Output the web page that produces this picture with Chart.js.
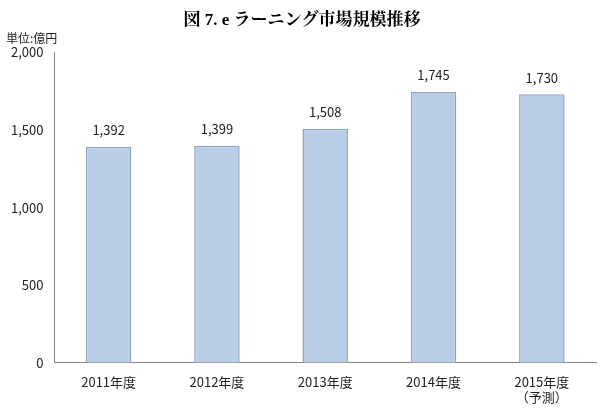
<!DOCTYPE html>
<html><head><meta charset="utf-8">
<script src="https://cdn.jsdelivr.net/npm/chart.js@4"></script>
<style>body{margin:0;background:#fff}#w{width:610px;height:408px;position:relative}</style>
</head><body><div id="w"><canvas id="c"></canvas></div>
<script>
var categories = [["2011年度"], ["2012年度"], ["2013年度"], ["2014年度"], ["2015年度", "（予測）"]];
var values = [1392, 1399, 1508, 1745, 1730];
var yTicks = [0, 500, 1000, 1500, 2000];
var titleText = "図 7. e ラーニング市場規模推移";
var unitLabel = "単位:億円";
var FONT = "'Noto Sans CJK JP', 'Noto Sans', sans-serif";

function fmt(v) {
  return Number(v).toLocaleString('en-US');
}

var labelsPlugin = {
  id: 'lbl',
  afterDatasetsDraw: function (ch) {
    var c = ch.ctx;
    var m = ch.getDatasetMeta(0);
    c.save();
    c.font = "13px " + FONT;
    c.fillStyle = '#222';
    c.textAlign = 'center';
    c.textBaseline = 'bottom';
    for (var i = 0; i < m.data.length; i++) {
      var b = m.data[i];
      c.fillText(fmt(values[i]), b.x, b.y - 10);
    }
    c.textAlign = 'left';
    c.font = "12px " + FONT;
    c.fillText(unitLabel, 6, 44);
    c.restore();
  }
};

function barFill(ctx) {
  var e = ctx.element;
  if (!e || !isFinite(e.x)) { return '#b9cde6'; }
  var w = 22;
  var g = ctx.chart.ctx.createLinearGradient(e.x - w, 0, e.x + w, 0);
  g.addColorStop(0, '#9fb6d4');
  g.addColorStop(0.15, '#c4d5ec');
  g.addColorStop(0.85, '#c4d5ec');
  g.addColorStop(1, '#9fb6d4');
  return g;
}

var config = {
  type: 'bar',
  data: {
    labels: categories,
    datasets: [{
      data: values,
      backgroundColor: barFill,
      borderColor: '#8ea5c4',
      borderWidth: 1.5,
      barPercentage: 0.42,
      categoryPercentage: 1
    }]
  },
  options: {
    responsive: true,
    maintainAspectRatio: false,
    animation: false,
    layout: { padding: { left: 8, right: 14, top: 4, bottom: 0 } },
    plugins: {
      legend: { display: false },
      tooltip: { enabled: false },
      title: {
        display: true,
        text: titleText,
        font: { family: "'Liberation Serif', 'Noto Serif CJK JP', serif", size: 17, weight: 'bold' },
        color: '#000',
        padding: { top: 6, bottom: 22 }
      }
    },
    scales: {
      y: {
        min: 0,
        max: 2000,
        afterBuildTicks: function (ax) { ax.ticks = yTicks.map(function (v) { return { value: v }; }); },
        ticks: { color: '#222', font: { family: FONT, size: 13 }, callback: function (v) { return fmt(v); } },
        grid: { display: false },
        border: { color: '#888' }
      },
      x: {
        ticks: { color: '#222', font: { family: FONT, size: 13 } },
        grid: { display: false },
        border: { color: '#888' }
      }
    }
  },
  plugins: [labelsPlugin]
};

new Chart(document.getElementById('c'), config);
</script></body></html>
